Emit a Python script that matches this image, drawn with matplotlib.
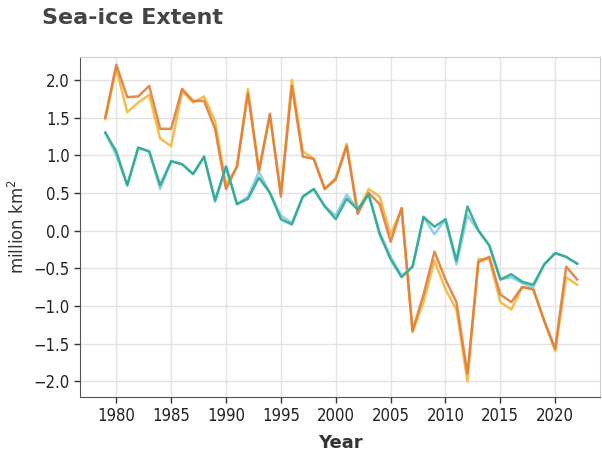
import numpy as np
import matplotlib.pyplot as plt

years = np.arange(1979, 2023)

orange = [1.50, 2.20, 1.77, 1.78, 1.92, 1.35, 1.35, 1.88, 1.72, 1.72,
          1.35, 0.55, 0.85, 1.82, 0.78, 1.55, 0.45, 1.92, 0.98, 0.95,
          0.55, 0.68, 1.12, 0.22, 0.50, 0.35, -0.15, 0.30, -1.33, -0.85,
          -0.28, -0.65, -0.95, -1.90, -0.42, -0.35, -0.85, -0.95, -0.75, -0.78,
          -1.20, -1.57, -0.48, -0.65]
yellow = [1.48, 2.15, 1.57, 1.70, 1.80, 1.22, 1.12, 1.85, 1.70, 1.78,
          1.45, 0.60, 0.85, 1.88, 0.80, 1.52, 0.50, 2.00, 1.05, 0.95,
          0.55, 0.70, 1.15, 0.25, 0.55, 0.45, -0.05, 0.28, -1.35, -0.95,
          -0.40, -0.78, -1.05, -2.00, -0.38, -0.38, -0.95, -1.05, -0.75, -0.78,
          -1.20, -1.60, -0.62, -0.72]
teal = [1.30, 1.05, 0.60, 1.10, 1.05, 0.60, 0.92, 0.88, 0.75, 0.98,
        0.40, 0.85, 0.35, 0.42, 0.70, 0.50, 0.15, 0.08, 0.45, 0.55,
        0.32, 0.15, 0.42, 0.28, 0.48, -0.05, -0.38, -0.62, -0.48, 0.18,
        0.05, 0.15, -0.40, 0.32, 0.00, -0.20, -0.65, -0.58, -0.68, -0.72,
        -0.45, -0.30, -0.35, -0.44]
lightblue = [1.30, 1.00, 0.60, 1.10, 1.05, 0.55, 0.92, 0.88, 0.75, 0.98,
             0.38, 0.85, 0.35, 0.45, 0.78, 0.50, 0.20, 0.10, 0.45, 0.55,
             0.32, 0.20, 0.48, 0.28, 0.48, -0.02, -0.35, -0.60, -0.48, 0.18,
             -0.05, 0.15, -0.45, 0.20, 0.00, -0.20, -0.65, -0.62, -0.70, -0.75,
             -0.45, -0.30, -0.35, -0.44]

plt.rcParams['font.family'] = ['DejaVu Sans']

fig = plt.figure(figsize=(6.02, 4.55), dpi=100)
ax = fig.add_axes([0.133, 0.1275, 0.864, 0.7475])

ax.plot(years, yellow, color='#f3b63a', lw=1.8, alpha=0.9)
ax.plot(years, orange, color='#e07d3a', lw=1.8, alpha=0.9)
ax.plot(years, lightblue, color='#86c9ec', lw=1.8, alpha=0.9)
ax.plot(years, teal, color='#2daa8c', lw=1.8, alpha=0.9)

ax.set_xlim(1976.7, 2024.1)
ax.set_ylim(-2.21, 2.305)
ax.set_xticks(np.arange(1980, 2021, 5))
ax.set_yticks(np.arange(-2.0, 2.01, 0.5))
ax.set_yticklabels(['%.1f' % v if v >= 0 else '\u2212%.1f' % -v for v in np.arange(-2.0, 2.01, 0.5)])
ax.grid(True, color='#e3e3e3', lw=1.0)
ax.set_axisbelow(True)

for s in ['top', 'right']:
    ax.spines[s].set_color('#cccccc')
for s in ['left', 'bottom']:
    ax.spines[s].set_color('#555555')
ax.tick_params(labelsize=12, colors='#333333', length=4, width=1)
for lab in ax.get_xticklabels() + ax.get_yticklabels():
    lab.set_fontstretch('condensed')
    lab.set_fontweight('medium')
    lab.set_color('#222222')

ax.set_xlabel('Year', fontsize=13, fontweight='bold', color='#333333', labelpad=6)
ax.set_ylabel('million km$^2$', fontsize=12, color='#333333', labelpad=4)

fig.text(0.07, 0.96, 'Sea-ice Extent', fontsize=16, fontweight='bold',
         color='#444444', va='center', ha='left')

fig.savefig('out.png', dpi=100)
